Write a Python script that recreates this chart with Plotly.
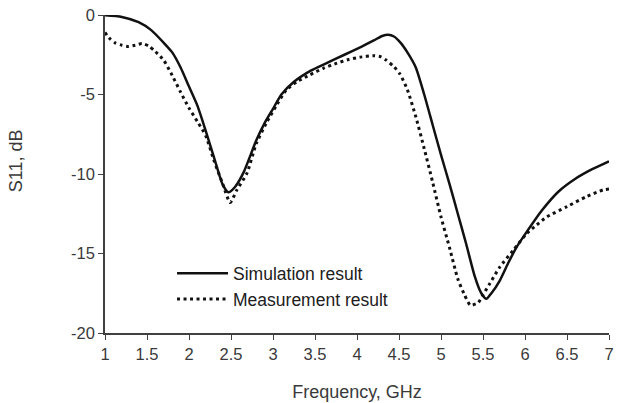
import plotly.graph_objects as go

# Simulation result
sim_freq = [1.0, 1.2, 1.4, 1.55, 1.7, 1.8, 1.9, 2.0, 2.1, 2.2, 2.3, 2.4, 2.47, 2.55, 2.65,
            2.8, 2.9, 3.0, 3.1, 3.25, 3.45, 3.65, 3.85, 4.05, 4.2, 4.3, 4.37, 4.44, 4.52,
            4.6, 4.7, 4.8, 4.9, 5.0, 5.1, 5.2, 5.3, 5.4, 5.48, 5.54, 5.6, 5.7, 5.8, 5.9,
            6.0, 6.2, 6.4, 6.6, 6.8, 7.0]
sim_s11 = [-0.02, -0.12, -0.45, -0.95, -1.75, -2.35, -3.3, -4.5, -5.7, -7.3, -9.0, -10.65,
           -11.15, -10.8, -9.9, -7.9, -6.8, -5.9, -5.0, -4.2, -3.5, -3.0, -2.5, -2.0, -1.6,
           -1.32, -1.24, -1.35, -1.75, -2.35, -3.3, -5.0, -6.9, -8.8, -10.6, -12.5, -14.4,
           -16.4, -17.5, -17.85, -17.5, -16.7, -15.6, -14.6, -13.8, -12.3, -11.1, -10.3,
           -9.7, -9.2]

# Measurement result
meas_freq = [1.0, 1.05, 1.12, 1.2, 1.28, 1.36, 1.44, 1.52, 1.6, 1.7, 1.8, 1.9, 2.0, 2.1,
             2.2, 2.3, 2.4, 2.49, 2.57, 2.69, 2.8, 2.92, 3.05, 3.16, 3.3, 3.44, 3.6, 3.76,
             3.9, 4.04, 4.19, 4.28, 4.35, 4.43, 4.51, 4.6, 4.7, 4.8, 4.9, 5.0, 5.1, 5.2,
             5.28, 5.35, 5.44, 5.5, 5.58, 5.7, 5.86, 6.02, 6.14, 6.26, 6.5, 6.74, 6.93, 7.0]
meas_s11 = [-1.1, -1.45, -1.75, -1.9, -1.98, -1.9, -1.8, -1.95, -2.3, -2.85, -3.8, -4.85,
            -5.85, -6.7, -7.6, -9.2, -10.6, -11.8, -11.0, -9.95, -8.1, -6.8, -5.6, -4.7,
            -4.15, -3.76, -3.35, -3.03, -2.8, -2.65, -2.56, -2.62, -2.85, -3.2, -3.7, -4.7,
            -6.4, -8.4, -10.5, -12.7, -14.6, -16.6, -17.6, -18.25, -18.1, -17.6, -16.9,
            -15.85, -14.8, -13.75, -13.2, -12.7, -12.05, -11.4, -11.0, -10.95]

x_ticks = [1, 1.5, 2, 2.5, 3, 3.5, 4, 4.5, 5, 5.5, 6, 6.5, 7]
y_ticks = [0, -5, -10, -15, -20]

fig = go.Figure()
fig.add_trace(go.Scatter(x=sim_freq, y=sim_s11, mode="lines", name="Simulation result",
                         line=dict(color="#111111", width=2.5, shape="spline", smoothing=0.6)))
fig.add_trace(go.Scatter(x=meas_freq, y=meas_s11, mode="lines", name="Measurement result",
                         line=dict(color="#111111", width=3, dash="3px,3.5px",
                                   shape="spline", smoothing=0.6)))

fam = "Liberation Sans, Arial, sans-serif"
tick_font = dict(family=fam, size=16.5, color="#3a3a3a")
title_font = dict(family=fam, size=18, color="#3a3a3a")
fig.update_layout(
    width=626, height=403,
    margin=dict(l=105, r=17, t=15, b=70),
    paper_bgcolor="white", plot_bgcolor="white",
    font=tick_font,
    showlegend=True,
    legend=dict(x=0.133, y=0.244, xanchor="left", yanchor="top",
                bgcolor="rgba(0,0,0,0)", font=dict(family=fam, size=17.5, color="#202020"),
                tracegroupgap=0, itemwidth=51),
    xaxis=dict(range=[1, 7], tickvals=x_ticks, ticktext=[f"{v:g}" for v in x_ticks],
               showgrid=False, zeroline=False, showline=True, linecolor="#404040",
               linewidth=1.5, ticks="outside", ticklen=5, tickcolor="#404040",
               tickfont=tick_font, automargin=False,
               title=dict(text="Frequency, GHz", font=title_font, standoff=24)),
    yaxis=dict(range=[-20, 0], tickvals=y_ticks, ticktext=[f"{v:g}" for v in y_ticks],
               showgrid=False, zeroline=False, showline=True, linecolor="#404040",
               linewidth=1.5, ticks="outside", ticklen=5, tickcolor="#404040",
               tickfont=tick_font, automargin=False),
    annotations=[dict(text="S11, dB", textangle=-90, xref="paper", yref="paper",
                      x=0, y=0.54, xanchor="center", yanchor="middle", xshift=-89,
                      showarrow=False, font=title_font)],
)
fig.write_html("out.html", config={"displayModeBar": False},
               post_script="document.body.style.margin='0';document.body.style.padding='0';")
